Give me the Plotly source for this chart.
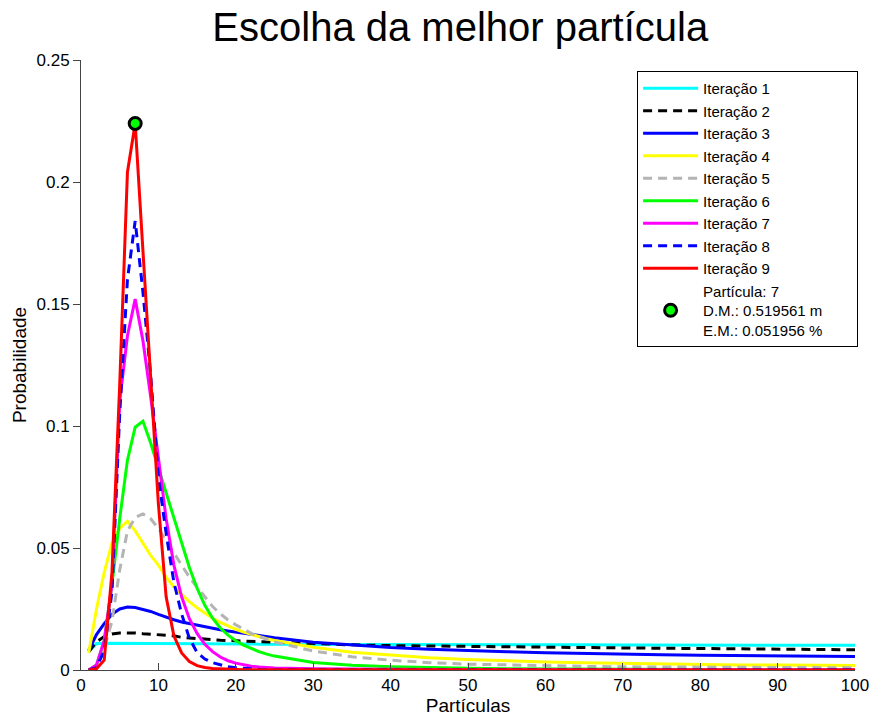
import plotly.graph_objects as go

particles = list(range(1, 26)) + [30, 35, 40, 45, 50, 55, 60, 65, 70, 75, 80, 85, 90, 95, 100]

it1 = [0.0075, 0.0109, 0.0110, 0.0110, 0.0110, 0.0110, 0.0109, 0.0109, 0.0109, 0.0109,
       0.0109, 0.0108, 0.0108, 0.0108, 0.0108, 0.0108, 0.0107, 0.0107, 0.0107, 0.0107,
       0.0107, 0.0107, 0.0106, 0.0106, 0.0106,
       0.0106, 0.0105, 0.0105, 0.0104, 0.0104, 0.0103, 0.0103, 0.0103, 0.0102, 0.0102,
       0.0102, 0.0101, 0.0101, 0.0101, 0.0101]
it2 = [0.0075, 0.0115, 0.0137, 0.0148, 0.0152, 0.0153, 0.0152, 0.0149, 0.0147, 0.0145,
       0.0143, 0.0140, 0.0134, 0.0131, 0.0128, 0.0126, 0.0124, 0.0122, 0.0121, 0.0120,
       0.0118, 0.0116, 0.0115, 0.0114, 0.0113,
       0.0107, 0.0103, 0.0100, 0.0098, 0.0096, 0.0094, 0.0092, 0.0091, 0.0090, 0.0089,
       0.0088, 0.0086, 0.0085, 0.0084, 0.0083]
it3 = [0.0080, 0.0145, 0.0190, 0.0228, 0.0250, 0.0258, 0.0256, 0.0249, 0.0240, 0.0228,
       0.0216, 0.0206, 0.0197, 0.0190, 0.0183, 0.0177, 0.0171, 0.0165, 0.0160, 0.0155,
       0.0150, 0.0145, 0.0140, 0.0136, 0.0132,
       0.0114, 0.0102, 0.0092, 0.0085, 0.0079, 0.0075, 0.0071, 0.0067, 0.0064, 0.0062,
       0.0060, 0.0058, 0.0057, 0.0056, 0.0055]
it4 = [0.0070, 0.0250, 0.0400, 0.0520, 0.0580, 0.0610, 0.0570, 0.0520, 0.0470, 0.0430,
       0.0380, 0.0340, 0.0310, 0.0280, 0.0255, 0.0232, 0.0212, 0.0195, 0.0180, 0.0167,
       0.0155, 0.0145, 0.0136, 0.0128, 0.0121,
       0.0093, 0.0073, 0.0060, 0.0050, 0.0043, 0.0037, 0.0033, 0.0030, 0.0027, 0.0025,
       0.0023, 0.0021, 0.0020, 0.0019, 0.0018]
it5 = [0.0000, 0.0020, 0.0090, 0.0200, 0.0410, 0.0570, 0.0625, 0.0640, 0.0620, 0.0580,
       0.0530, 0.0480, 0.0430, 0.0380, 0.0340, 0.0300, 0.0260, 0.0230, 0.0205, 0.0185,
       0.0167, 0.0150, 0.0137, 0.0125, 0.0115,
       0.0078, 0.0054, 0.0040, 0.0030, 0.0024, 0.0020, 0.0017, 0.0015, 0.0013, 0.0012,
       0.0011, 0.0011, 0.0010, 0.0010, 0.0009]
it6 = [0.0000, 0.0020, 0.0120, 0.0350, 0.0620, 0.0860, 0.0995, 0.1020, 0.0930, 0.0830,
       0.0730, 0.0630, 0.0520, 0.0420, 0.0335, 0.0265, 0.0212, 0.0172, 0.0143, 0.0120,
       0.0102, 0.0087, 0.0075, 0.0065, 0.0057,
       0.0031, 0.0019, 0.0013, 0.0009, 0.0007, 0.0005, 0.0004, 0.0003, 0.0003, 0.0002,
       0.0002, 0.0002, 0.0001, 0.0001, 0.0001]
it7 = [0.0000, 0.0020, 0.0120, 0.0350, 0.1100, 0.1370, 0.1520, 0.1350, 0.1120, 0.0880,
       0.0620, 0.0430, 0.0300, 0.0210, 0.0150, 0.0105, 0.0075, 0.0053, 0.0038, 0.0028,
       0.0020, 0.0015, 0.0012, 0.0010, 0.0008,
       0.0005, 0.0003, 0.0002, 0.0002, 0.0001, 0.0001, 0.0001, 0.0001, 0.0001, 0.0001,
       0.0001, 0.0001, 0.0001, 0.0001, 0.0001]
it8 = [0.0000, 0.0010, 0.0080, 0.0320, 0.1050, 0.1600, 0.1840, 0.1550, 0.1210, 0.0790,
       0.0560, 0.0360, 0.0230, 0.0130, 0.0072, 0.0045, 0.0030, 0.0020, 0.0013, 0.0009,
       0.0006, 0.0004, 0.0003, 0.0002, 0.0002,
       0.0001, 0.0001, 0.0001, 0.0001, 0.0001, 0.0001, 0.0001, 0.0001, 0.0001, 0.0001,
       0.0001, 0.0001, 0.0001, 0.0001, 0.0001]
it9 = [0.0000, 0.0005, 0.0040, 0.0400, 0.1170, 0.2040, 0.2240, 0.1720, 0.1220, 0.0680,
       0.0300, 0.0140, 0.0070, 0.0035, 0.0018, 0.0010, 0.0006, 0.0004, 0.0003, 0.0002,
       0.0001, 0.0001, 0.0001, 0.0001, 0.0001,
       0.0000, 0.0000, 0.0000, 0.0000, 0.0000, 0.0000, 0.0000, 0.0000, 0.0000, 0.0000,
       0.0000, 0.0000, 0.0000, 0.0000, 0.0000]

series = [it1, it2, it3, it4, it5, it6, it7, it8, it9]
names = ["Iteração 1", "Iteração 2", "Iteração 3", "Iteração 4", "Iteração 5",
         "Iteração 6", "Iteração 7", "Iteração 8", "Iteração 9"]
colors = ["#00ffff", "#000000", "#0000ff", "#ffff00", "#b4b4b4",
          "#00ff00", "#ff00ff", "#0000ff", "#ff0000"]
dashes = ["solid", "9px,6px", "solid", "solid", "9px,6px",
          "solid", "solid", "9px,6px", "solid"]

best_particle = [7]
best_prob = [0.224]
best_label = ("Partícula: 7<br>D.M.: 0.519561 m" + "\u00a0" * 7 +
              "<br>E.M.: 0.051956 %")

fig = go.Figure()
for y, n, c, d in zip(series, names, colors, dashes):
    fig.add_trace(go.Scatter(x=particles, y=y, mode="lines", name=n,
                             line=dict(color=c, width=3, dash=d)))
fig.add_trace(go.Scatter(x=best_particle, y=best_prob, mode="markers", name=best_label,
                         marker=dict(color="#00ff00", size=12,
                                     line=dict(color="black", width=3))))

fig.update_layout(
    width=872, height=718,
    margin=dict(l=81, r=17, t=60, b=48, autoexpand=False),
    paper_bgcolor="white", plot_bgcolor="white",
    font=dict(family="Liberation Sans, Arial", size=16, color="black"),
    title=dict(text="Escolha da melhor partícula", font=dict(size=40, color="black"),
               x=0.49, xref="paper", xanchor="center",
               y=0.943, yref="container", yanchor="bottom"),
    legend=dict(x=1.004, y=0.982, xanchor="right", yanchor="top",
                bordercolor="black", borderwidth=1, bgcolor="white",
                font=dict(size=15), itemwidth=55, tracegroupgap=0),
    showlegend=True,
)
fig.update_xaxes(range=[0, 100], dtick=10, showgrid=False, zeroline=False,
                 showline=True, linecolor="#444", linewidth=1, automargin=False,
                 ticks="inside", ticklen=7, tickcolor="#444",
                 title=dict(text="Partículas", font=dict(size=19), standoff=2),
                 tickfont=dict(size=17))
fig.update_yaxes(range=[0, 0.25], dtick=0.05, showgrid=False, zeroline=False,
                 showline=True, linecolor="#444", linewidth=1, automargin=False,
                 ticks="outside", ticklen=7, tickcolor="#444",
                 tickformat="~g",
                 title=dict(text="Probabilidade", font=dict(size=19), standoff=4),
                 tickfont=dict(size=17))

fig.write_html("out.html",
               config={"displayModeBar": False},
               post_script="document.body.style.margin='0';"
                           "document.body.style.overflow='hidden';")
